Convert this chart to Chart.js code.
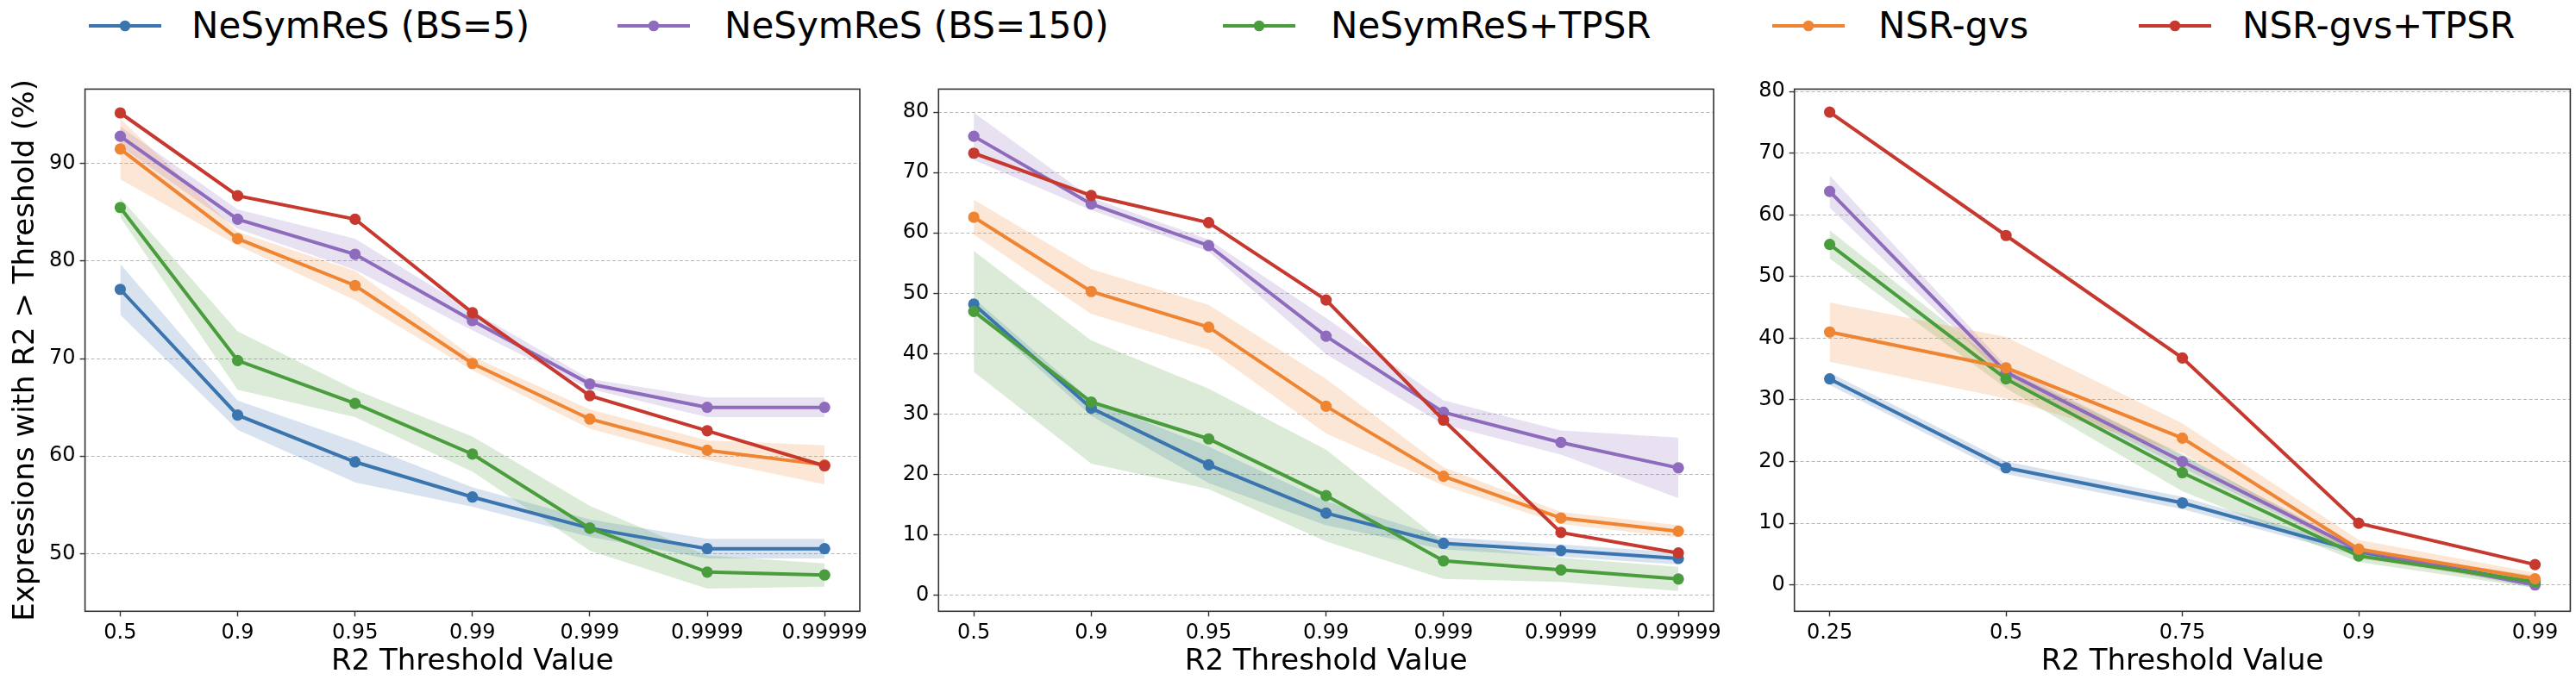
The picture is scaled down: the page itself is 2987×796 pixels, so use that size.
<!DOCTYPE html>
<html>
<head>
<meta charset="utf-8">
<script src="https://cdn.jsdelivr.net/npm/chart.js@4.4.1/dist/chart.umd.min.js"></script>
<style>
  html, body { margin: 0; padding: 0; background: #ffffff; }
  body { width: 2987px; height: 796px; position: relative; overflow: hidden; font-family: "DejaVu Sans", sans-serif; }
  canvas { position: absolute; top: 0; }
  .lg { position: absolute; top: 0; height: 60px; }
  .lg svg { position: absolute; top: 0; left: 0; }
  .lg span { position: absolute; top: 9px; line-height: 42px; font-size: 42px; color: #000; white-space: nowrap; }
</style>
</head>
<body>
<div id="legend"></div>
<canvas id="c1" width="1060" height="796" style="left:0px"></canvas>
<canvas id="c2" width="1040" height="796" style="left:1020px"></canvas>
<canvas id="c3" width="957" height="796" style="left:2030px"></canvas>
<script>
// ---------------- data ----------------
const seriesNames = ['NeSymReS (BS=5)', 'NeSymReS (BS=150)', 'NeSymReS+TPSR', 'NSR-gvs', 'NSR-gvs+TPSR'];
const seriesColors = ['#3a75b0', '#8e6bbd', '#4a9d3c', '#ef8533', '#c7392f'];

const thresholdsA = ['0.5', '0.9', '0.95', '0.99', '0.999', '0.9999', '0.99999'];
const thresholdsB = ['0.25', '0.5', '0.75', '0.9', '0.99'];

// Panel 1
const p1Blue   = [77.1, 64.2, 59.4, 55.8, 52.6, 50.5, 50.5];
const p1Purple = [92.8, 84.3, 80.7, 73.9, 67.4, 65.0, 65.0];
const p1Green  = [85.5, 69.8, 65.4, 60.2, 52.6, 48.1, 47.8];
const p1Orange = [91.5, 82.3, 77.5, 69.5, 63.8, 60.6, 59.1];
const p1Red    = [95.2, 86.7, 84.3, 74.7, 66.2, 62.6, 59.0];
const p1BlueSd   = [2.6, 1.5, 2.1, 1.0, 0.9, 1.0, 1.0];
const p1PurpleSd = [1.0, 1.0, 1.6, 1.0, 0.5, 1.0, 1.0];
const p1GreenSd  = [1.0, 3.0, 1.4, 1.8, 2.3, 1.7, 1.2];
const p1OrangeSd = [3.1, 0.7, 1.5, 0.7, 1.0, 1.0, 2.0];

// Panel 2
const p2Blue   = [48.2, 31.0, 21.6, 13.6, 8.6, 7.4, 6.1];
const p2Purple = [76.0, 64.8, 57.9, 42.9, 30.3, 25.3, 21.1];
const p2Green  = [47.0, 32.0, 25.9, 16.5, 5.7, 4.2, 2.7];
const p2Orange = [62.6, 50.3, 44.4, 31.3, 19.7, 12.8, 10.6];
const p2Red    = [73.2, 66.2, 61.7, 48.9, 29.0, 10.4, 7.0];
const p2BlueSd   = [1.0, 1.3, 3.0, 2.0, 1.0, 1.0, 1.0];
const p2PurpleSd = [3.9, 1.0, 1.0, 3.0, 2.0, 2.0, 5.0];
const p2GreenSd  = [10.0, 10.2, 8.3, 7.6, 3.0, 2.0, 2.0];
const p2OrangeSd = [2.9, 3.7, 3.7, 4.5, 1.5, 1.0, 1.0];

// Panel 3
const p3Blue   = [33.4, 19.0, 13.3, 5.4, 0.3];
const p3Purple = [63.8, 34.5, 20.0, 5.6, 0.0];
const p3Green  = [55.2, 33.4, 18.2, 4.7, 0.5];
const p3Orange = [41.0, 35.2, 23.8, 5.8, 1.0];
const p3Red    = [76.65, 56.65, 36.8, 10.0, 3.3];
const p3BlueSd   = [1.0, 1.0, 1.0, 0.7, 0.5];
const p3PurpleSd = [2.6, 1.0, 1.0, 0.5, 0.5];
const p3GreenSd  = [2.3, 1.5, 3.0, 1.0, 1.0];
const p3OrangeSd = [4.8, 5.0, 2.4, 1.5, 1.0];

const yTicks1 = [50, 60, 70, 80, 90];
const yTicks2 = [0, 10, 20, 30, 40, 50, 60, 70, 80];
const yTicks3 = [0, 10, 20, 30, 40, 50, 60, 70, 80];

const xTitle = 'R2 Threshold Value';
const yTitle = 'Expressions with R2 > Threshold (%)';

// ---------------- helpers ----------------
function rgba(hex, a) {
  const n = parseInt(hex.slice(1), 16);
  return `rgba(${(n >> 16) & 255},${(n >> 8) & 255},${n & 255},${a})`;
}
const FONT = '"DejaVu Sans", sans-serif';

const framePlugin = {
  id: 'frame',
  afterDraw(chart) {
    const a = chart.chartArea, ctx = chart.ctx;
    ctx.save();
    ctx.strokeStyle = '#333333';
    ctx.lineWidth = 1.6;
    ctx.setLineDash([]);
    ctx.strokeRect(a.left, a.top, a.right - a.left, a.bottom - a.top);
    ctx.restore();
  }
};

function buildChart(id, canvasLeft, canvasWidth, areaLeft, areaRight, cats, means, sds, yMin, yMax, yTicks, showYTitle) {
  const datasets = [];
  // bands
  for (let s = 0; s < means.length; s++) {
    const sd = sds[s];
    if (!sd) continue;
    const up = means[s].map((v, i) => ({ x: i, y: v + sd[i] }));
    const lo = means[s].map((v, i) => ({ x: i, y: v - sd[i] }));
    datasets.push({
      data: up, borderWidth: 0, pointRadius: 0, fill: '+1',
      backgroundColor: rgba(seriesColors[s], 0.2), borderColor: 'rgba(0,0,0,0)', order: 20 + (5 - s)
    });
    datasets.push({
      data: lo, borderWidth: 0, pointRadius: 0, fill: false,
      backgroundColor: 'rgba(0,0,0,0)', borderColor: 'rgba(0,0,0,0)', order: 20 + (5 - s)
    });
  }
  // lines
  for (let s = 0; s < means.length; s++) {
    datasets.push({
      label: seriesNames[s],
      data: means[s].map((v, i) => ({ x: i, y: v })),
      borderColor: seriesColors[s], backgroundColor: seriesColors[s],
      pointBackgroundColor: seriesColors[s], pointBorderColor: seriesColors[s],
      borderWidth: 4, pointRadius: 6.6, pointBorderWidth: 0, fill: false,
      tension: 0, order: 5 - s
    });
  }
  const n = cats.length;
  const margin = (n - 1) * 0.05;
  const xAxisHeight = 796 - 709.3;
  return new Chart(document.getElementById(id), {
    type: 'line',
    data: { datasets },
    options: {
      responsive: false, animation: false, devicePixelRatio: 1,
      layout: { padding: { top: 103.4, right: canvasLeft + canvasWidth - areaRight, left: 0, bottom: 0 } },
      plugins: {
        legend: { display: false }, tooltip: { enabled: false },
        filler: { drawTime: 'beforeDatasetsDraw', propagate: false }
      },
      scales: {
        x: {
          type: 'linear', min: -margin, max: n - 1 + margin,
          afterFit: (s) => { s.height = xAxisHeight; },
          afterBuildTicks: (s) => { s.ticks = cats.map((c, i) => ({ value: i })); },
          ticks: {
            callback: (v) => cats[v], autoSkip: false, maxRotation: 0, minRotation: 0,
            padding: 5, color: '#000', font: { family: FONT, size: 24 }
          },
          grid: { drawOnChartArea: false, drawTicks: true, tickLength: 6, tickColor: '#333', tickWidth: 1.4 },
          border: { display: false },
          title: { display: true, text: xTitle, color: '#000', font: { family: FONT, size: 34 }, padding: { top: 0, bottom: 7 } }
        },
        y: {
          type: 'linear', min: yMin, max: yMax,
          afterFit: (s) => { s.width = areaLeft - canvasLeft; },
          afterBuildTicks: (s) => { s.ticks = yTicks.map((v) => ({ value: v })); },
          ticks: { padding: 5, color: '#000', font: { family: FONT, size: 24 } },
          grid: { color: 'rgba(176,176,176,0.9)', lineWidth: 1.1, drawTicks: true, tickLength: 6, tickColor: '#333', tickWidth: 1.4, tickBorderDash: [] },
          border: { display: false, dash: [4, 2.5] },
          title: { display: showYTitle, text: yTitle, color: '#000', font: { family: FONT, size: 34 }, padding: { top: 10, bottom: 0 } }
        }
      }
    },
    plugins: [framePlugin]
  });
}

buildChart('c1', 0, 1060, 98.6, 997.0, thresholdsA,
  [p1Blue, p1Purple, p1Green, p1Orange, p1Red],
  [p1BlueSd, p1PurpleSd, p1GreenSd, p1OrangeSd, null],
  44.08, 97.64, yTicks1, true);

buildChart('c2', 1020, 1040, 1088.3, 1987.0, thresholdsA,
  [p2Blue, p2Purple, p2Green, p2Orange, p2Red],
  [p2BlueSd, p2PurpleSd, p2GreenSd, p2OrangeSd, null],
  -2.65, 83.81, yTicks2, false);

buildChart('c3', 2030, 957, 2080.7, 2980.5, thresholdsB,
  [p3Blue, p3Purple, p3Green, p3Orange, p3Red],
  [p3BlueSd, p3PurpleSd, p3GreenSd, p3OrangeSd, null],
  -4.27, 80.38, yTicks3, false);

// ---------------- legend ----------------
const legendLineX = [103, 716, 1418, 2055, 2480];
const legendTextX = [222, 840, 1543, 2178, 2600];
const lg = document.getElementById('legend');
seriesNames.forEach((name, s) => {
  const d = document.createElement('div');
  d.className = 'lg';
  d.style.left = legendLineX[s] + 'px';
  d.style.width = (legendTextX[s] - legendLineX[s] + 520) + 'px';
  const c = seriesColors[s];
  d.innerHTML = `<svg width="90" height="60"><line x1="0" y1="30" x2="84" y2="30" stroke="${c}" stroke-width="4"/><circle cx="42" cy="30" r="6.3" fill="${c}"/></svg>` +
    `<span style="left:${legendTextX[s] - legendLineX[s]}px">${name}</span>`;
  lg.appendChild(d);
});
</script>
</body>
</html>
